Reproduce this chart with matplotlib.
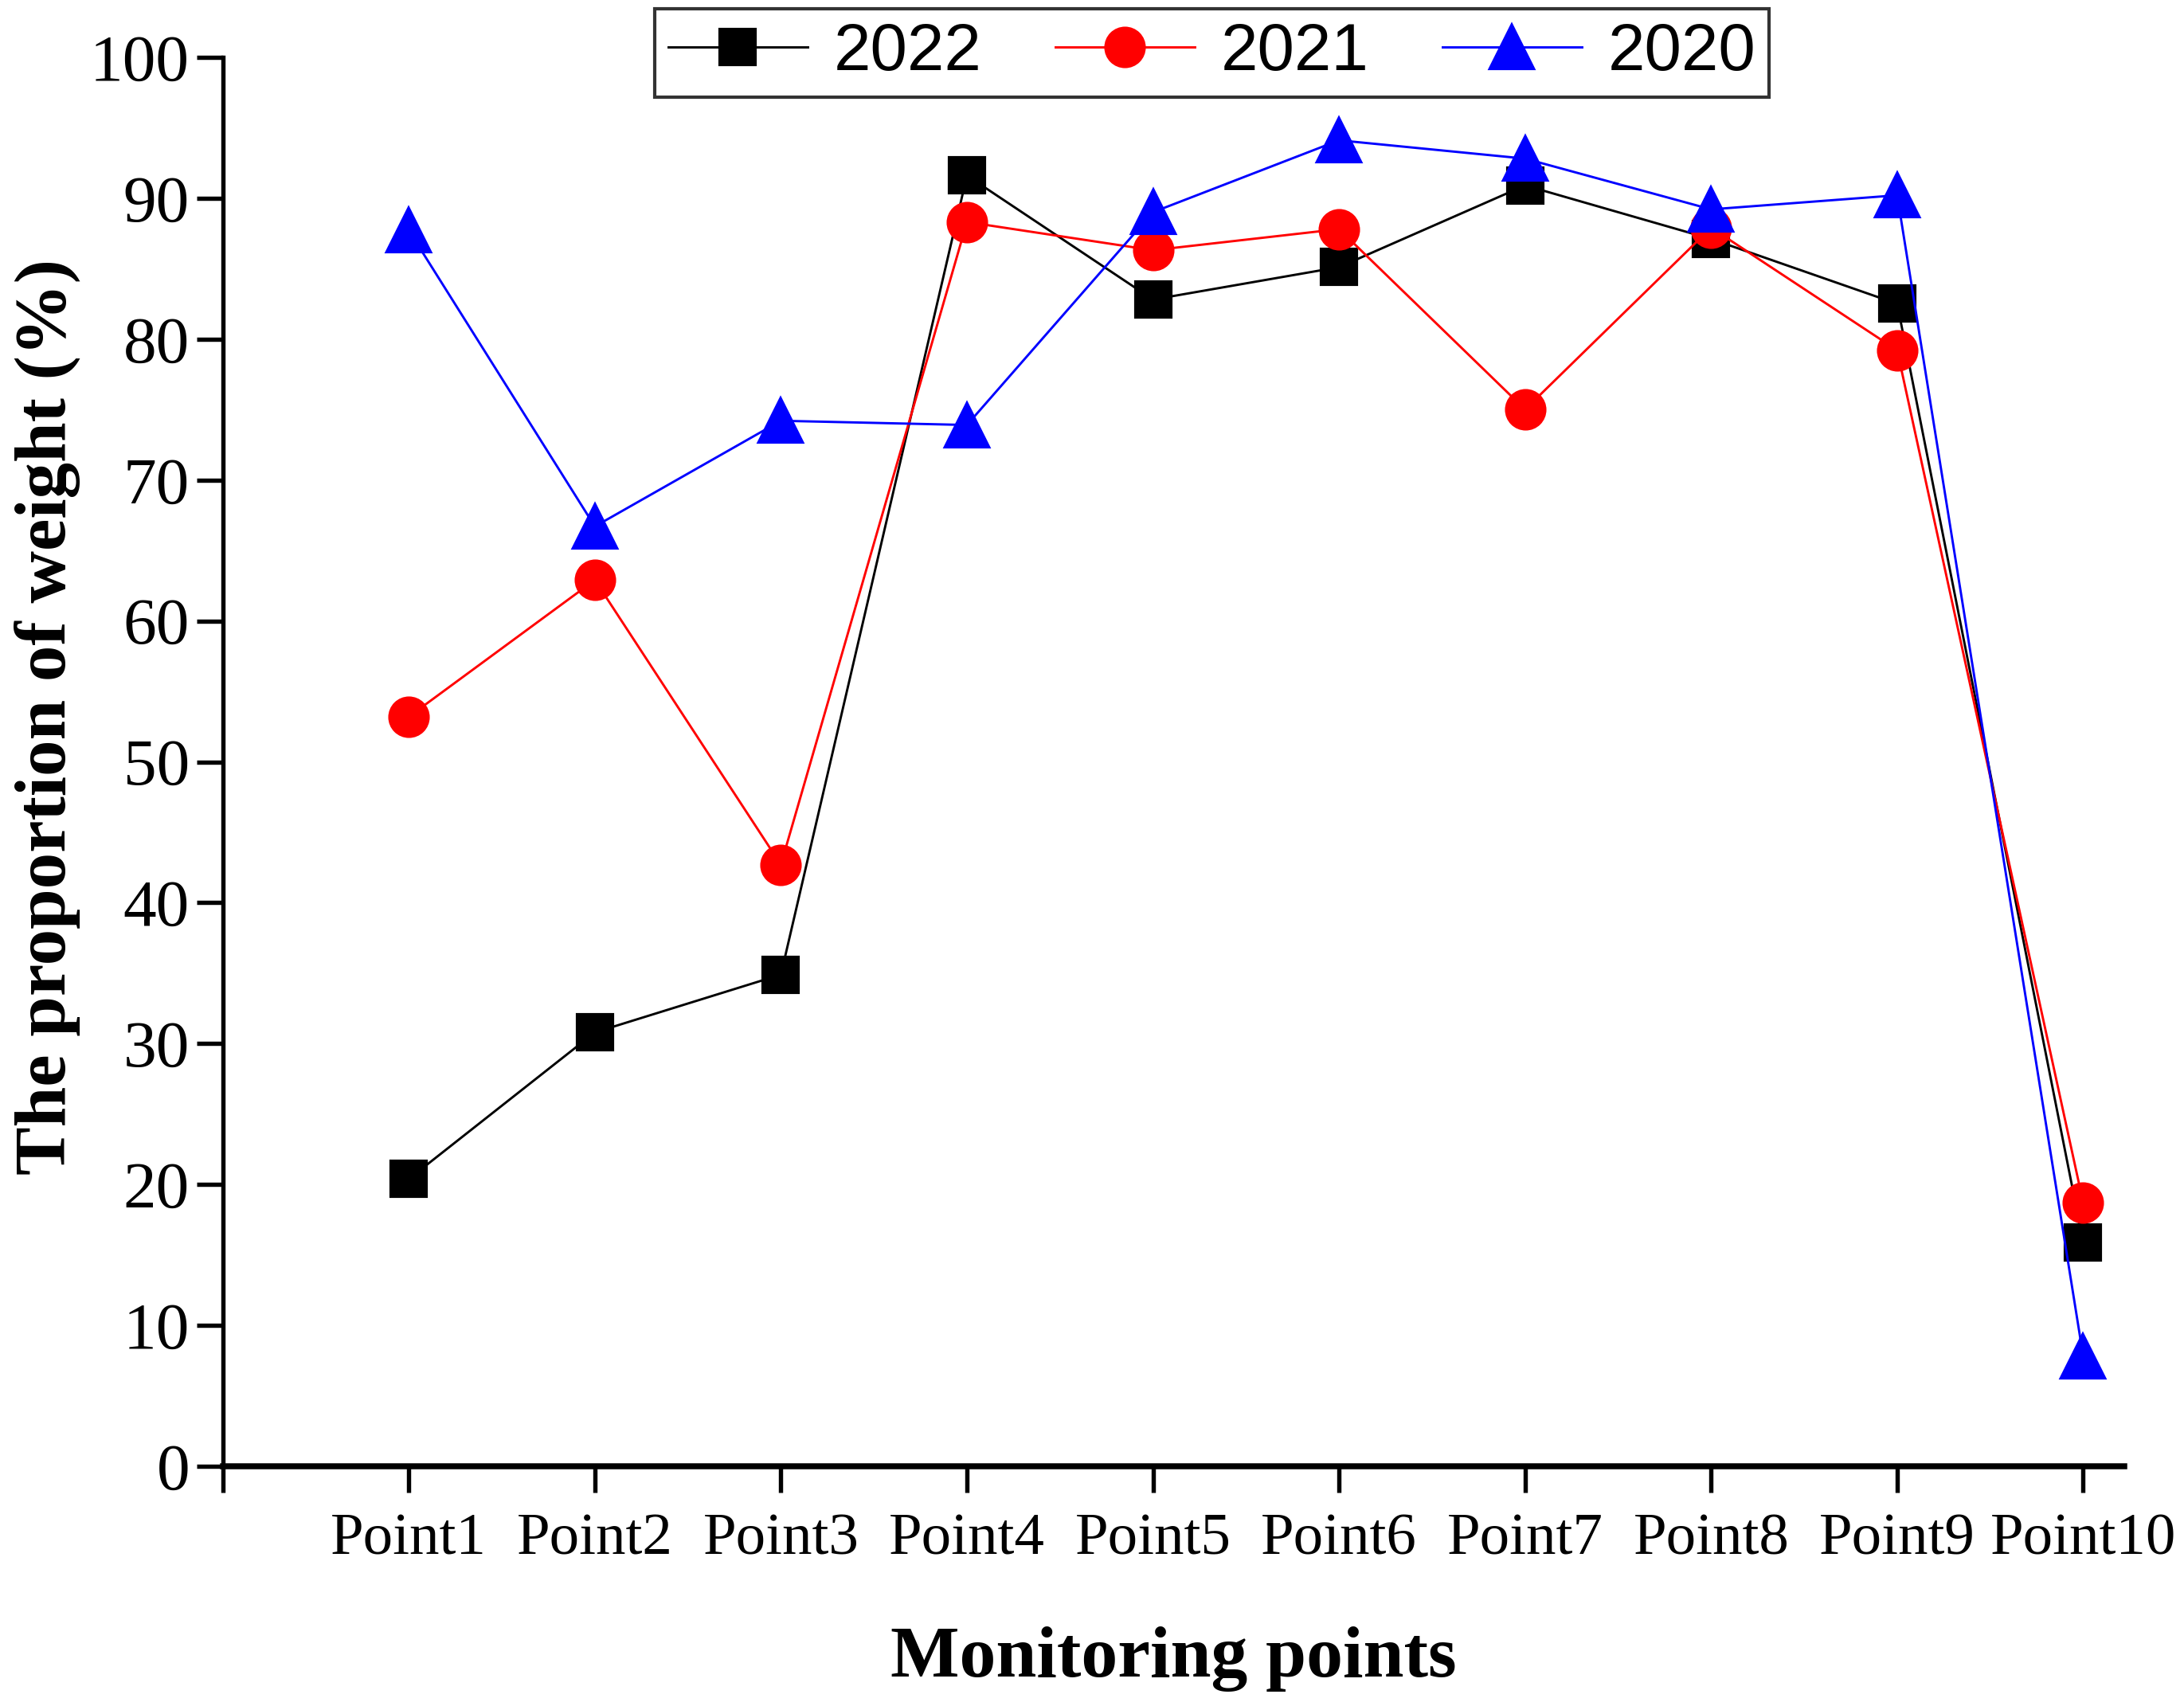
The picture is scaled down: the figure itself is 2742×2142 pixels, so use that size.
import matplotlib.pyplot as plt

# data
points = ["Point1", "Point2", "Point3", "Point4", "Point5",
          "Point6", "Point7", "Point8", "Point9", "Point10"]
y2022 = [20.4, 30.8, 34.9, 91.6, 82.8, 85.1, 90.9, 87.1, 82.5, 15.9]
y2021 = [53.2, 62.9, 42.7, 88.3, 86.3, 87.8, 75.0, 87.9, 79.2, 18.7]
y2020 = [87.7, 66.7, 74.2, 73.9, 89.0, 94.1, 92.8, 89.2, 90.2, 7.8]

x = list(range(1, len(points) + 1))

fig = plt.figure(figsize=(9.14, 7.14), dpi=300)
ax = fig.add_axes([0.102, 0.1404, 0.8706, 0.8261])

ax.plot(x, y2022, color="black", lw=0.7, marker="s", ms=10.5, label="2022")
ax.plot(x, y2021, color="red", lw=0.7, marker="o", ms=11.5, label="2021")
ax.plot(x, y2020, color="blue", lw=0.7, marker="^", ms=13, label="2020")

ax.set_xlim(0, 10.22)
ax.set_ylim(0, 100)
ax.set_xticks([0] + x)
ax.set_xticklabels([""] + points, fontfamily="Liberation Serif", fontsize=18)
ax.set_yticks(range(0, 101, 10))
ax.set_yticklabels([str(v) for v in range(0, 101, 10)],
                   fontfamily="Liberation Serif", fontsize=20)

for s in ["top", "right"]:
    ax.spines[s].set_visible(False)
ax.spines["left"].set_linewidth(1.3)
ax.spines["bottom"].set_linewidth(1.8)
ax.tick_params(axis="both", direction="out", length=8, width=1.3)
ax.tick_params(axis="x", pad=6)
ax.tick_params(axis="y", pad=2)

ax.set_xlabel("Monitoring points", fontfamily="Liberation Serif",
              fontweight="bold", fontsize=22, labelpad=18)
ax.set_ylabel("The proportion of weight (%)", fontfamily="Liberation Serif",
              fontweight="bold", fontsize=21.8)
ax.yaxis.set_label_coords(-0.075, 0.532)

leg = fig.legend(loc="upper center", bbox_to_anchor=(0.555, 0.995), ncol=3,
                 prop={"family": "Liberation Sans", "size": 20},
                 handlelength=2.1, handletextpad=0.4, columnspacing=1.1,
                 frameon=True, fancybox=False, edgecolor="black",
                 borderpad=0.2, borderaxespad=0)
leg.get_frame().set_linewidth(1.0)

fig.savefig("out.png", dpi=300)
